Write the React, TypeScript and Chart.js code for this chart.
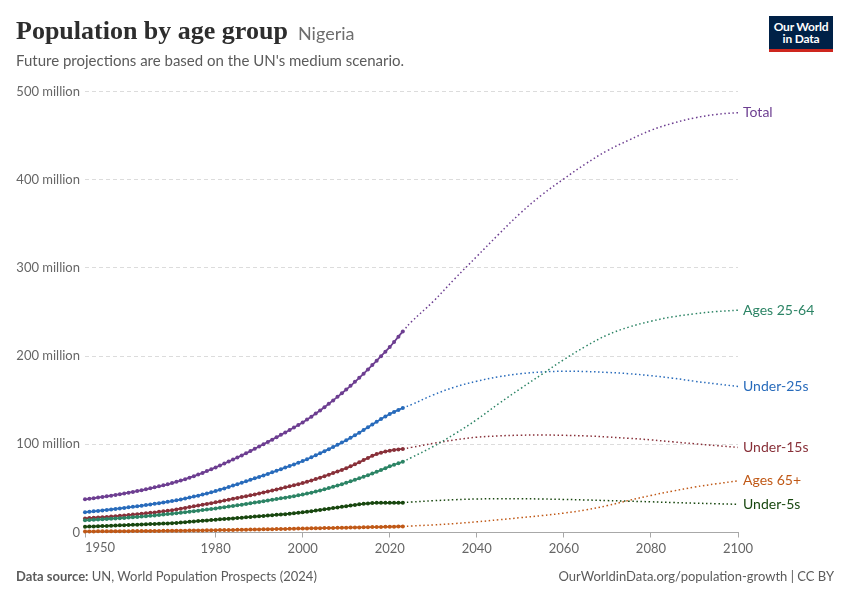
import React, { useEffect, useRef } from "react";
import { Chart, registerables } from "chart.js";

Chart.register(...registerables);

// ---------- DATA (values in millions) ----------
const histYears = [
  1950, 1951, 1952, 1953, 1954, 1955, 1956, 1957, 1958, 1959,
  1960, 1961, 1962, 1963, 1964, 1965, 1966, 1967, 1968, 1969,
  1970, 1971, 1972, 1973, 1974, 1975, 1976, 1977, 1978, 1979,
  1980, 1981, 1982, 1983, 1984, 1985, 1986, 1987, 1988, 1989,
  1990, 1991, 1992, 1993, 1994, 1995, 1996, 1997, 1998, 1999,
  2000, 2001, 2002, 2003, 2004, 2005, 2006, 2007, 2008, 2009,
  2010, 2011, 2012, 2013, 2014, 2015, 2016, 2017, 2018, 2019,
  2020, 2021, 2022, 2023,
];

const projYears = [2023, 2025, 2030, 2035, 2040, 2045, 2050, 2055, 2060, 2065, 2070, 2075, 2080, 2085, 2090, 2095, 2100];

const totalHist = [
  37.6, 38.2, 38.9, 39.6, 40.3, 41.0, 41.8, 42.6, 43.4, 44.2,
  45.1, 46.0, 47.0, 48.0, 49.0, 50.1, 51.2, 52.3, 53.5, 54.7,
  56.0, 57.4, 58.9, 60.5, 62.2, 63.9, 65.7, 67.6, 69.6, 71.7,
  73.8, 76.0, 78.2, 80.4, 82.7, 85.0, 87.4, 89.8, 92.3, 94.9,
  97.5, 100.1, 102.7, 105.3, 108.0, 110.7, 113.4, 116.2, 119.0, 121.8,
  124.8, 128.0, 131.3, 134.8, 138.4, 142.1, 145.9, 149.8, 153.8, 157.9,
  162.0, 166.3, 170.8, 175.4, 180.1, 184.9, 189.8, 194.8, 199.9, 205.0,
  210.2, 216.0, 222.0, 228.0,
];
const totalProj = [228.0, 239, 262, 288, 313, 338, 362, 383, 401, 418, 433, 445, 456, 464, 470, 474, 476];

const u25Hist = [
  23.0, 23.5, 24.0, 24.5, 25.0, 25.6, 26.1, 26.7, 27.3, 27.9,
  28.5, 29.1, 29.7, 30.4, 31.1, 31.8, 32.5, 33.2, 34.0, 34.8,
  35.6, 36.5, 37.5, 38.5, 39.6, 40.7, 41.8, 43.0, 44.3, 45.6,
  47.0, 48.5, 50.0, 51.6, 53.2, 54.8, 56.4, 58.0, 59.7, 61.4,
  63.0, 64.7, 66.4, 68.2, 70.0, 71.8, 73.6, 75.4, 77.2, 79.1,
  81.0, 83.1, 85.3, 87.6, 89.9, 92.2, 94.5, 96.9, 99.4, 101.9,
  104.5, 107.3, 110.2, 113.2, 116.3, 119.4, 122.5, 125.6, 128.6, 131.6,
  134.4, 136.7, 139.0, 141.2,
];
const u25Proj = [141.2, 145, 156, 165, 171.5, 176.5, 180, 182, 182.8, 182.5, 181.5, 180, 177.8, 175, 171.5, 168.5, 165.5];

const u15Hist = [
  16.0, 16.3, 16.7, 17.0, 17.4, 17.7, 18.1, 18.5, 18.9, 19.3,
  19.8, 20.3, 20.8, 21.3, 21.8, 22.3, 22.8, 23.4, 24.0, 24.6,
  25.3, 26.1, 27.0, 27.9, 28.8, 29.7, 30.6, 31.5, 32.4, 33.3,
  34.2, 35.2, 36.2, 37.2, 38.2, 39.2, 40.2, 41.2, 42.2, 43.2,
  44.3, 45.4, 46.5, 47.6, 48.8, 50.0, 51.2, 52.4, 53.6, 54.8,
  56.1, 57.5, 59.0, 60.6, 62.2, 63.9, 65.6, 67.4, 69.2, 71.0,
  72.9, 75.0, 77.3, 79.7, 82.1, 84.6, 86.9, 88.9, 90.5, 91.8,
  92.8, 93.6, 94.2, 94.7,
];
const u15Proj = [94.7, 96.5, 101, 105, 108, 109.5, 110.3, 110.5, 110.2, 109.5, 108.3, 106.8, 105, 102.8, 100.6, 98.5, 96.5];

const a2564Hist = [
  13.8, 14.1, 14.4, 14.7, 15.0, 15.3, 15.6, 15.9, 16.2, 16.5,
  16.9, 17.3, 17.7, 18.1, 18.5, 18.9, 19.4, 19.9, 20.4, 20.9,
  21.4, 21.9, 22.4, 23.0, 23.6, 24.2, 24.8, 25.4, 26.0, 26.6,
  27.3, 28.0, 28.7, 29.4, 30.1, 30.8, 31.5, 32.3, 33.1, 33.9,
  34.7, 35.5, 36.3, 37.1, 37.9, 38.7, 39.5, 40.3, 41.2, 42.1,
  43.0, 44.1, 45.2, 46.4, 47.7, 49.0, 50.4, 51.8, 53.3, 54.8,
  56.4, 58.0, 59.7, 61.4, 63.2, 65.0, 66.9, 68.8, 70.8, 72.9,
  75.0, 76.8, 78.5, 80.2,
];
const a2564Proj = [80.2, 85, 97.5, 112, 128, 146, 163, 179.5, 196, 211, 224, 233, 239.5, 244.5, 248, 250.5, 252];

const u5Hist = [
  6.5, 6.7, 6.9, 7.1, 7.3, 7.5, 7.7, 7.9, 8.1, 8.3,
  8.5, 8.7, 8.9, 9.1, 9.3, 9.5, 9.7, 9.9, 10.1, 10.3,
  10.6, 10.9, 11.3, 11.7, 12.1, 12.5, 12.9, 13.3, 13.7, 14.1,
  14.5, 14.9, 15.3, 15.7, 16.0, 16.4, 16.8, 17.2, 17.6, 18.0,
  18.4, 18.8, 19.2, 19.6, 20.0, 20.4, 20.8, 21.3, 21.8, 22.3,
  22.9, 23.5, 24.2, 24.9, 25.6, 26.3, 27.0, 27.7, 28.4, 29.1,
  29.8, 30.5, 31.2, 31.9, 32.5, 33.0, 33.4, 33.6, 33.7, 33.7,
  33.7, 33.7, 33.7, 33.8,
];
const u5Proj = [33.8, 34.5, 36, 37.2, 38, 38.3, 38.3, 38.0, 37.5, 36.9, 36.2, 35.5, 34.8, 34.0, 33.3, 32.6, 32.0];

const a65Hist = [
  1.2, 1.2, 1.2, 1.3, 1.3, 1.3, 1.4, 1.4, 1.4, 1.5,
  1.5, 1.6, 1.6, 1.6, 1.7, 1.7, 1.8, 1.8, 1.9, 1.9,
  2.0, 2.0, 2.1, 2.1, 2.2, 2.3, 2.3, 2.4, 2.5, 2.5,
  2.6, 2.7, 2.8, 2.8, 2.9, 3.0, 3.1, 3.2, 3.3, 3.4,
  3.5, 3.6, 3.7, 3.8, 3.9, 4.0, 4.1, 4.2, 4.3, 4.4,
  4.5, 4.6, 4.7, 4.8, 4.9, 5.0, 5.1, 5.2, 5.3, 5.4,
  5.5, 5.6, 5.7, 5.8, 5.9, 6.0, 6.1, 6.2, 6.3, 6.4,
  6.5, 6.6, 6.8, 6.9,
];
const a65Proj = [6.9, 7.4, 8.6, 10.2, 12.1, 14.4, 16.8, 19.2, 22, 25.6, 30.5, 36.5, 42, 47, 51.5, 55.2, 58.5];

const seriesNames = ["Total", "Ages 25-64", "Under-25s", "Under-15s", "Ages 65+", "Under-5s"];
const seriesColors = ["#6d3e91", "#2c8465", "#286bbb", "#883039", "#c05917", "#18470f"];
const seriesHist = [totalHist, a2564Hist, u25Hist, u15Hist, a65Hist, u5Hist];
const seriesProj = [totalProj, a2564Proj, u25Proj, u15Proj, a65Proj, u5Proj];

const xTickValues = [1950, 1980, 2000, 2020, 2040, 2060, 2080, 2100];
const yTickValues = [0, 100, 200, 300, 400, 500];

const FONT = "Lato, 'Noto Sans', sans-serif";

export default function App() {
  const canvasRef = useRef<HTMLCanvasElement | null>(null);

  useEffect(() => {
    document.body.style.margin = "0";
    const canvas = canvasRef.current;
    if (!canvas) return;

    const datasets: any[] = [];
    seriesNames.forEach((name, i) => {
      datasets.push({
        label: name + " projection",
        data: projYears.map((yr, j) => ({ x: yr, y: seriesProj[i][j] })),
        borderColor: seriesColors[i],
        backgroundColor: seriesColors[i],
        borderWidth: 1.5,
        borderDash: [1.5, 2.6],
        pointRadius: 0,
        tension: 0.4,
        clip: 8,
      });
    });
    seriesNames.forEach((name, i) => {
      datasets.push({
        label: name,
        data: histYears.map((yr, j) => ({ x: yr, y: seriesHist[i][j] })),
        borderColor: seriesColors[i],
        backgroundColor: seriesColors[i],
        borderWidth: 1.8,
        pointRadius: 2,
        pointBorderWidth: 0,
        pointBackgroundColor: seriesColors[i],
        tension: 0,
        clip: 8,
      });
    });

    const labelsPlugin = {
      id: "rightLabels",
      afterDraw(chart: any) {
        const { ctx, chartArea, scales } = chart;
        const ys = scales.y;
        const xs = scales.x;
        ctx.save();
        ctx.font = `14px ${FONT}`;
        ctx.textBaseline = "middle";
        ctx.textAlign = "left";
        seriesNames.forEach((name, i) => {
          const proj = seriesProj[i];
          const v = proj[proj.length - 1];
          ctx.fillStyle = seriesColors[i];
          ctx.fillText(name, chartArea.right + 5, ys.getPixelForValue(v));
        });
        // first x tick label, left-aligned at its tick
        ctx.font = `13px ${FONT}`;
        ctx.fillStyle = "#666666";
        ctx.textAlign = "left";
        ctx.textBaseline = "top";
        ctx.fillText(String(xTickValues[0]), xs.getPixelForValue(xTickValues[0]), xs.top + 5 + 4);
        ctx.restore();
      },
    };

    const chart = new Chart(canvas, {
      type: "line",
      data: { datasets },
      plugins: [labelsPlugin],
      options: {
        animation: false,
        responsive: false,
        maintainAspectRatio: false,
        devicePixelRatio: 1,
        layout: { padding: { left: 16, right: 112, top: 91.5, bottom: 37.5 } },
        plugins: { legend: { display: false }, tooltip: { enabled: false } },
        scales: {
          x: {
            type: "linear",
            min: 1950,
            max: 2100,
            afterBuildTicks: (scale: any) => {
              scale.ticks = xTickValues.map((v) => ({ value: v }));
            },
            afterFit: (scale: any) => {
              scale.height = 30;
            },
            grid: { drawOnChartArea: false, drawTicks: true, tickLength: 5, color: "#a8a8a8" },
            border: { display: true, color: "#a8a8a8", width: 1 },
            ticks: {
              autoSkip: false,
              maxRotation: 0,
              padding: 4,
              color: "#666666",
              font: { family: FONT, size: 13 },
              callback: (v: any) => (v === xTickValues[0] ? "" : String(v)),
            },
          },
          y: {
            type: "linear",
            min: 0,
            max: 500,
            afterBuildTicks: (scale: any) => {
              scale.ticks = yTickValues.map((v) => ({ value: v }));
            },
            afterFit: (scale: any) => {
              scale.width = 69;
            },
            grid: {
              drawTicks: false,
              tickLength: 0,
              color: (c: any) => (c.tick && c.tick.value === 0 ? "rgba(0,0,0,0)" : "#dcdcdc"),
              lineWidth: 1,
            },
            border: { display: false, dash: [4, 3] },
            ticks: {
              padding: 5,
              color: "#666666",
              font: { family: FONT, size: 13 },
              callback: (v: any) => (v === 0 ? "0" : `${v} million`),
            },
          },
        },
      },
    });

    return () => chart.destroy();
  }, []);

  return (
    <div style={{ position: "absolute", left: 0, top: 0, width: 850, height: 600, background: "#ffffff", overflow: "hidden" }}>
      <canvas ref={canvasRef} width={850} height={600} style={{ position: "absolute", left: 0, top: 0, width: 850, height: 600 }} />
      <div
        style={{
          position: "absolute",
          left: 16,
          top: 18,
          fontFamily: "'Liberation Serif', 'DejaVu Serif', serif",
          fontWeight: 700,
          fontSize: 26,
          lineHeight: "26px",
          color: "#2d2d2d",
          whiteSpace: "nowrap",
        }}
      >
        Population by age group
      </div>
      <div
        style={{
          position: "absolute",
          left: 298,
          top: 23.5,
          fontFamily: FONT,
          fontSize: 18,
          lineHeight: "18px",
          color: "#6e6e6e",
          whiteSpace: "nowrap",
        }}
      >
        Nigeria
      </div>
      <div
        style={{
          position: "absolute",
          left: 16,
          top: 52.5,
          fontFamily: FONT,
          fontSize: 15,
          lineHeight: "15px",
          color: "#5b5b5b",
          whiteSpace: "nowrap",
        }}
      >
        Future projections are based on the UN's medium scenario.
      </div>
      <div style={{ position: "absolute", left: 769, top: 16, width: 64, height: 36 }}>
        <div
          style={{
            height: 32.5,
            background: "#002147",
            color: "#ffffff",
            fontFamily: FONT,
            fontWeight: 700,
            fontSize: 12,
            lineHeight: "11.5px",
            textAlign: "center",
            paddingTop: 5,
            boxSizing: "border-box",
            letterSpacing: -0.2,
          }}
        >
          Our World
          <br />
          in Data
        </div>
        <div style={{ height: 3.5, background: "#ce261e" }} />
      </div>
      <div
        style={{
          position: "absolute",
          left: 16,
          top: 569.5,
          fontFamily: FONT,
          fontSize: 13,
          lineHeight: "13px",
          color: "#5b5b5b",
          whiteSpace: "nowrap",
        }}
      >
        <b style={{ fontWeight: 700 }}>Data source:</b> UN, World Population Prospects (2024)
      </div>
      <div
        style={{
          position: "absolute",
          right: 16,
          top: 569.5,
          fontFamily: FONT,
          fontSize: 13,
          lineHeight: "13px",
          color: "#5b5b5b",
          whiteSpace: "nowrap",
          textAlign: "right",
        }}
      >
        OurWorldinData.org/population-growth | CC BY
      </div>
    </div>
  );
}
